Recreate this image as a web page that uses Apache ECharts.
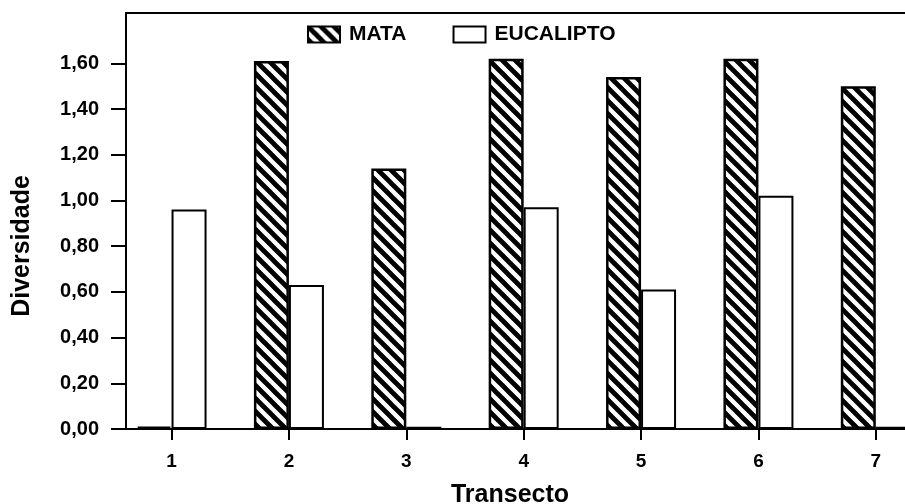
<!DOCTYPE html>
<html>
<head>
<meta charset="utf-8">
<script src="https://cdn.jsdelivr.net/npm/echarts@6/dist/echarts.min.js"></script>
<style>html,body{margin:0;padding:0;background:#fff}#c{width:905px;height:504px}</style>
</head>
<body>
<div id="c"></div>
<script>
var categories = ['1','2','3','4','5','6','7'];
var mata = [0.01, 1.61, 1.14, 1.62, 1.54, 1.62, 1.50];
var eucalipto = [0.96, 0.63, 0.01, 0.97, 0.61, 1.02, 0.01];
var yTicks = [0, 0.2, 0.4, 0.6, 0.8, 1.0, 1.2, 1.4, 1.6];
var xTicks = [1, 2, 3, 4, 5, 6, 7];

function hatch() {
  var P = 13, cv = document.createElement('canvas');
  cv.width = P; cv.height = P;
  var g = cv.getContext('2d');
  g.fillStyle = '#fff'; g.fillRect(0, 0, P, P);
  g.strokeStyle = '#000'; g.lineWidth = 4.8;
  for (var k = -1; k <= 1; k++) {
    g.beginPath(); g.moveTo(k * P - 3, -3); g.lineTo(k * P + P + 3, P + 3); g.stroke();
  }
  return cv;
}

var FONT = 'Liberation Sans';
var chart = echarts.init(document.getElementById('c'), null, {renderer: 'canvas'});
chart.setOption({
  animation: false,
  backgroundColor: '#fff',
  grid: {left: 126, top: 13, width: 822, height: 416, outerBoundsMode: 'none', containLabel: false,
    show: true, borderColor: '#000', borderWidth: 2, backgroundColor: 'transparent'},
  legend: {
    left: 302, top: 19, itemWidth: 32, itemHeight: 16, itemGap: 46, icon: 'rect',
    textStyle: {fontFamily: FONT, fontWeight: 'bold', fontSize: 21, color: '#000', padding: [0, 0, 0, 4]},
    data: ['MATA', 'EUCALIPTO']
  },
  xAxis: {
    type: 'value', min: 0.612, max: 7.615,
    splitLine: {show: false},
    axisLine: {lineStyle: {color: '#000', width: 2}},
    axisTick: {length: 11, lineStyle: {color: '#000', width: 2}, customValues: xTicks},
    axisLabel: {customValues: xTicks, margin: 23, fontFamily: FONT, fontWeight: 'bold', fontSize: 19, color: '#000',
      formatter: function (v) { return categories[Math.round(v) - 1]; }}
  },
  yAxis: {
    type: 'value', min: 0, max: 1.82,
    splitLine: {show: false},
    axisLine: {show: true, lineStyle: {color: '#000', width: 2}},
    axisTick: {show: true, length: 15, lineStyle: {color: '#000', width: 2}, customValues: yTicks},
    axisLabel: {customValues: yTicks, margin: 27, fontFamily: FONT, fontWeight: 'bold', fontSize: 20, color: '#000',
      formatter: function (v) { return v.toFixed(2).replace('.', ','); }}
  },
  graphic: [
    {type: 'text', x: 22, y: 246, rotation: Math.PI / 2,
      style: {text: 'Diversidade', font: 'bold 25px "Liberation Sans"', fill: '#000', align: 'center', verticalAlign: 'middle'}},
    {type: 'text', x: 510, y: 495,
      style: {text: 'Transecto', font: 'bold 25px "Liberation Sans"', fill: '#000', align: 'center', verticalAlign: 'middle'}}
  ],
  series: [
    {name: 'MATA', type: 'bar', barWidth: 35, barGap: '0%',
      data: mata.map(function (v, i) { return [xTicks[i], v]; }),
      itemStyle: {color: {image: hatch(), repeat: 'repeat'}, borderColor: '#000', borderWidth: 2.5}},
    {name: 'EUCALIPTO', type: 'bar', barWidth: 35, barGap: '0%',
      data: eucalipto.map(function (v, i) { return [xTicks[i], v]; }),
      itemStyle: {color: '#fff', borderColor: '#000', borderWidth: 2}}
  ]
});
</script>
</body>
</html>
